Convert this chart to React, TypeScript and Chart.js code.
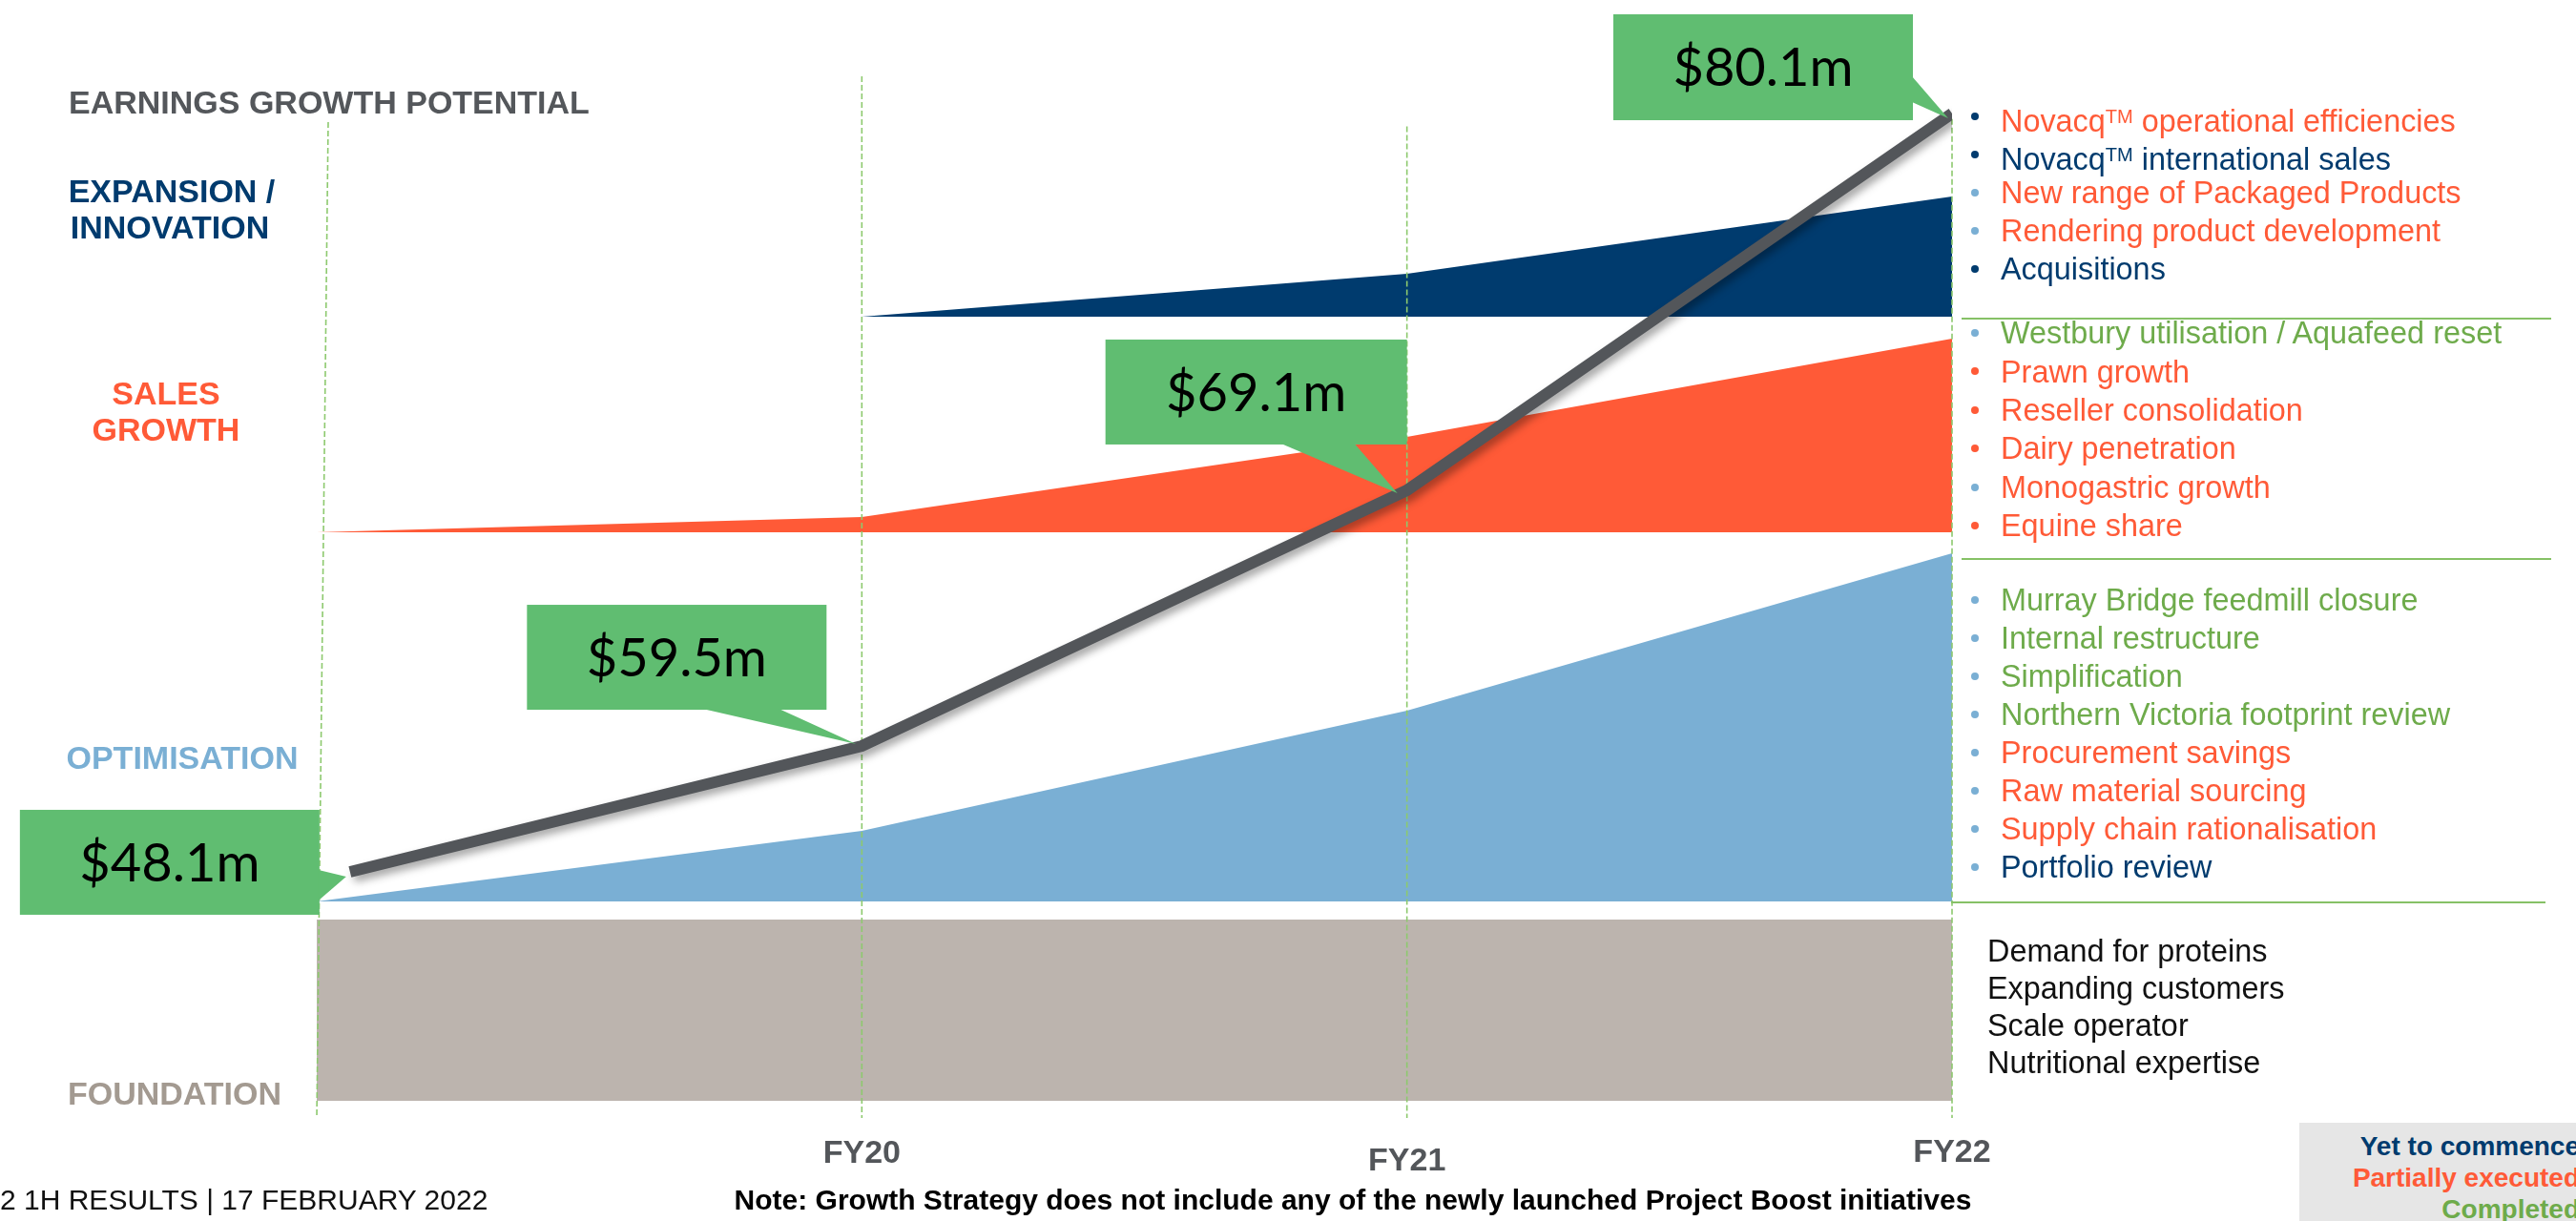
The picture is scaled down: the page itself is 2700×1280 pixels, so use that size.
import React, { useEffect, useRef } from "react";
import { Chart, registerables } from "chart.js";

Chart.register(...registerables);

// ------------------------------------------------------------------
// DATA (y is an abstract 0-100 scale)
// ------------------------------------------------------------------
const tickLabels = ["", "FY20", "FY21", "FY22"];
const periodX = [0, 1, 2, 3];

const foundationTop = [19.05, 19.05, 19.05, 19.05];
const foundationBase = 1.65;

const optimisationTop = [20.79, 27.56, 39.1, 54.21];
const optimisationBase = 20.79;

const salesTop = [56.23, 57.69, 65.38, 74.82];
const salesBase = 56.23;

const expansionTop: (number | null)[] = [null, 76.92, 81.04, 88.46];
const expansionBase = 76.92;

const earningsX = [0.061, 1, 2, 3];
const earningsY = [23.63, 35.71, 60.26, 96.43];
const earningsLabels = ["$48.1m", "$59.5m", "$69.1m", "$80.1m"];

const headline = "EARNINGS GROWTH POTENTIAL";
const pillarNames = [["EXPANSION /", "INNOVATION"], ["SALES", "GROWTH"], ["OPTIMISATION"], ["FOUNDATION"]];

const expansionInitiatives = [
  "Novacq™ operational efficiencies",
  "Novacq™ international sales",
  "New range of Packaged Products",
  "Rendering product development",
  "Acquisitions",
];
const expansionStatus = ["partial", "yet", "partial", "partial", "yet"];
const expansionBullets = ["navy", "navy", "blue", "blue", "navy"];

const salesInitiatives = [
  "Westbury utilisation / Aquafeed reset",
  "Prawn growth",
  "Reseller consolidation",
  "Dairy penetration",
  "Monogastric growth",
  "Equine share",
];
const salesStatus = ["done", "partial", "partial", "partial", "partial", "partial"];
const salesBullets = ["blue", "orange", "orange", "orange", "blue", "orange"];

const optimisationInitiatives = [
  "Murray Bridge feedmill closure",
  "Internal restructure",
  "Simplification",
  "Northern Victoria footprint review",
  "Procurement savings",
  "Raw material sourcing",
  "Supply chain rationalisation",
  "Portfolio review",
];
const optimisationStatus = ["done", "done", "done", "done", "partial", "partial", "partial", "yet"];
const optimisationBullets = ["blue", "blue", "blue", "blue", "blue", "blue", "blue", "blue"];

const foundationDrivers = ["Demand for proteins", "Expanding customers", "Scale operator", "Nutritional expertise"];

const legendLabels = ["Yet to commence", "Partially executed", "Completed"];
const legendStatus = ["yet", "partial", "done"];

const footerText = "2 1H RESULTS | 17 FEBRUARY 2022";
const noteText = "Note: Growth Strategy does not include any of the newly launched Project Boost initiatives";

// ------------------------------------------------------------------
// STYLE
// ------------------------------------------------------------------
const NAVY = "#003B6E";
const ORANGE = "#FF5A37";
const LIGHTBLUE = "#7AAFD4";
const GREEN_TXT = "#6EAB4B";
const CALLOUT = "#60BD71";
const LINE_GREY = "#53565A";
const FOUND_FILL = "#BCB4AE";
const FOUND_TXT = "#A39A91";
const GRID_GREEN = "#8DC96E";
const SEP_GREEN = "#86C166";
const SANS = "'Liberation Sans', Arial, Helvetica, sans-serif";
const LIST_FS = 32.4;

const statusColor: Record<string, string> = { yet: NAVY, partial: ORANGE, done: GREEN_TXT };
const bulletColor: Record<string, string> = { navy: NAVY, blue: LIGHTBLUE, orange: ORANGE };

// vertical dashed guides: top end (in y units) and top x shift (px)
const guideTop = [95.6, 100, 95.2, 95.9];
const guideTopDx = [12, 0, 0, 0];
const tickDy = [0, 35, 43, 34];

// callout geometry relative to each earnings point (px)
const calloutLayout = [
  { box: [-346, -65, 314, 110], side: "right", base: [-2, 30], tip: [-4, 5] },
  { box: [-351, -148, 314, 110], side: "bottom", base: [-167, -87], tip: [-6, -2] },
  { box: [-316, -158, 316, 110], side: "bottom", base: [-132, -55], tip: [-10, 3] },
  { box: [-355, -104, 314, 111], side: "right", base: [-39, -12], tip: [-4, 5] },
];

const pts = (xs: number[], ys: (number | null)[]) =>
  xs.map((x, i) => ({ x, y: ys[i] })).filter((p) => p.y !== null) as { x: number; y: number }[];

const decorPlugin = {
  id: "decor",
  beforeDatasetDraw(chart: any, args: any) {
    if (args.index === 0) {
      const ctx = chart.ctx;
      ctx.save();
      ctx.shadowColor = "rgba(0,0,0,0.35)";
      ctx.shadowBlur = 8;
      ctx.shadowOffsetX = 4;
      ctx.shadowOffsetY = 5;
    }
  },
  afterDatasetDraw(chart: any, args: any) {
    const ctx = chart.ctx;
    if (args.index === 0) {
      ctx.restore();
    }
    if (args.index === 1) {
      const xs = chart.scales.x;
      const ys = chart.scales.y;
      ctx.save();
      ctx.strokeStyle = GRID_GREEN;
      ctx.lineWidth = 1.6;
      ctx.setLineDash([6, 3]);
      periodX.forEach((v, i) => {
        const x = xs.getPixelForValue(v);
        ctx.beginPath();
        ctx.moveTo(x + guideTopDx[i], ys.getPixelForValue(guideTop[i]));
        ctx.lineTo(x, chart.chartArea.bottom);
        ctx.stroke();
      });
      ctx.restore();
    }
  },
  afterDatasetsDraw(chart: any) {
    const ctx = chart.ctx;
    const xs = chart.scales.x;
    // tick labels
    ctx.save();
    ctx.font = `bold 34px ${SANS}`;
    ctx.fillStyle = LINE_GREY;
    ctx.textAlign = "center";
    ctx.textBaseline = "alphabetic";
    periodX.forEach((v, i) => {
      if (!tickLabels[i]) return;
      const x = xs.getPixelForValue(v);
      const cy = chart.chartArea.bottom + tickDy[i];
      ctx.fillText(tickLabels[i], x, cy + 12.2);
    });
    ctx.restore();

    // callouts
    const meta = chart.getDatasetMeta(0);
    meta.data.forEach((pt: any, i: number) => {
      const L = calloutLayout[i];
      if (!L) return;
      const px = pt.x;
      const py = pt.y;
      const bx = px + L.box[0];
      const by = py + L.box[1];
      const bw = L.box[2];
      const bh = L.box[3];
      ctx.save();
      ctx.fillStyle = CALLOUT;
      ctx.fillRect(bx, by, bw, bh);
      ctx.beginPath();
      if (L.side === "right") {
        ctx.moveTo(bx + bw - 1, py + L.base[0]);
        ctx.lineTo(px + L.tip[0], py + L.tip[1]);
        ctx.lineTo(bx + bw - 1, py + L.base[1]);
      } else {
        ctx.moveTo(px + L.base[0], by + bh - 1);
        ctx.lineTo(px + L.tip[0], py + L.tip[1]);
        ctx.lineTo(px + L.base[1], by + bh - 1);
      }
      ctx.closePath();
      ctx.fill();
      ctx.fillStyle = "#000";
      ctx.font = "56px Lato, 'Open Sans', sans-serif";
      ctx.textAlign = "center";
      ctx.textBaseline = "alphabetic";
      ctx.fillText(earningsLabels[i], bx + bw / 2, by + bh / 2 + 20);
      ctx.restore();
    });
  },
};

const boldLabel = (fs: number) => ({
  position: "absolute" as const,
  fontFamily: SANS,
  fontWeight: 700,
  fontSize: fs,
  lineHeight: `${fs}px`,
  whiteSpace: "nowrap" as const,
});

function Centered({ cx, cy, fs, color, bold, children }: any) {
  return (
    <div
      style={{
        position: "absolute",
        left: cx - 1500,
        width: 3000,
        top: cy - 0.49 * fs,
        textAlign: "center",
        fontFamily: SANS,
        fontWeight: bold ? 700 : 400,
        fontSize: fs,
        lineHeight: `${fs}px`,
        color,
        whiteSpace: "nowrap",
      }}
    >
      {children}
    </div>
  );
}

function withTM(s: string) {
  const parts = s.split("™");
  const out: any[] = [];
  parts.forEach((p, i) => {
    out.push(<span key={"p" + i}>{p}</span>);
    if (i < parts.length - 1)
      out.push(
        <span key={"t" + i} style={{ fontSize: "0.62em", verticalAlign: "0.45em" }}>
          TM
        </span>
      );
  });
  return out;
}

function BulletList({ items, status, bullets, y0, dy }: any) {
  const fs = LIST_FS;
  return (
    <>
      {items.map((t: string, i: number) => {
        const cy = y0 + dy * i;
        return (
          <React.Fragment key={t}>
            <div
              style={{
                position: "absolute",
                left: 2066,
                top: cy - 4,
                width: 8,
                height: 8,
                borderRadius: 4,
                background: bulletColor[bullets[i]],
              }}
            />
            <div
              style={{
                position: "absolute",
                left: 2097,
                top: cy - 0.49 * fs,
                fontFamily: SANS,
                fontSize: fs,
                lineHeight: `${fs}px`,
                color: statusColor[status[i]],
                whiteSpace: "nowrap",
              }}
            >
              {withTM(t)}
            </div>
          </React.Fragment>
        );
      })}
    </>
  );
}

export default function App() {
  const canvasRef = useRef<HTMLCanvasElement | null>(null);

  useEffect(() => {
    if (!canvasRef.current) return;
    const area = (data: any, color: string, base: number, label: string) => ({
      label,
      data,
      borderColor: "rgba(0,0,0,0)",
      borderWidth: 0,
      backgroundColor: color,
      fill: { value: base },
      pointRadius: 0,
      tension: 0,
    });
    const chart = new Chart(canvasRef.current, {
      type: "line",
      data: {
        datasets: [
          {
            label: "Earnings",
            data: pts(earningsX, earningsY),
            borderColor: LINE_GREY,
            borderWidth: 12,
            pointRadius: 0,
            fill: false,
            tension: 0,
            borderCapStyle: "butt",
            borderJoinStyle: "miter",
          },
          area(pts(periodX, expansionTop), NAVY, expansionBase, "Expansion / Innovation"),
          area(pts(periodX, salesTop), ORANGE, salesBase, "Sales growth"),
          area(pts(periodX, optimisationTop), LIGHTBLUE, optimisationBase, "Optimisation"),
          area(pts(periodX, foundationTop), FOUND_FILL, foundationBase, "Foundation"),
        ] as any,
      },
      options: {
        animation: false,
        responsive: false,
        devicePixelRatio: 1,
        events: [],
        layout: { padding: { left: 332, right: 654, top: 80, bottom: 108 } },
        scales: {
          x: { type: "linear", min: 0, max: 3, display: false },
          y: { type: "linear", min: 0, max: 100, display: false },
        },
        plugins: { legend: { display: false }, tooltip: { enabled: false } },
      } as any,
      plugins: [decorPlugin as any],
    });
    return () => chart.destroy();
  }, []);

  return (
    <div
      style={{
        position: "absolute",
        left: 0,
        top: 0,
        width: 2700,
        height: 1280,
        overflow: "hidden",
        background: "#fff",
      }}
    >
      <canvas ref={canvasRef} width={2700} height={1280} style={{ position: "absolute", left: 0, top: 0, width: 2700, height: 1280 }} />

      {/* left pillar labels */}
      <div style={{ ...boldLabel(34), left: 72, top: 107 - 0.49 * 34, color: "#54575B" }}>{headline}</div>
      <Centered cx={180} cy={200} fs={34} color={NAVY} bold>{pillarNames[0][0]}</Centered>
      <Centered cx={178} cy={238} fs={34} color={NAVY} bold>{pillarNames[0][1]}</Centered>
      <Centered cx={174} cy={412} fs={34} color={ORANGE} bold>{pillarNames[1][0]}</Centered>
      <Centered cx={174} cy={450} fs={34} color={ORANGE} bold>{pillarNames[1][1]}</Centered>
      <Centered cx={191} cy={794} fs={34} color={LIGHTBLUE} bold>{pillarNames[2][0]}</Centered>
      <Centered cx={183} cy={1146} fs={34} color={FOUND_TXT} bold>{pillarNames[3][0]}</Centered>

      {/* right initiative lists */}
      <BulletList items={expansionInitiatives} status={expansionStatus} bullets={expansionBullets} y0={122} dy={40} />
      <BulletList items={salesInitiatives} status={salesStatus} bullets={salesBullets} y0={349} dy={40.4} />
      <BulletList items={optimisationInitiatives} status={optimisationStatus} bullets={optimisationBullets} y0={629} dy={40} />
      {foundationDrivers.map((t, i) => (
        <div
          key={t}
          style={{
            position: "absolute",
            left: 2083,
            top: 997 + 39 * i - 0.49 * LIST_FS,
            fontFamily: SANS,
            fontSize: LIST_FS,
            lineHeight: `${LIST_FS}px`,
            color: "#111",
            whiteSpace: "nowrap",
          }}
        >
          {t}
        </div>
      ))}

      {/* separators */}
      <div style={{ position: "absolute", left: 2056, top: 333, width: 618, height: 2, background: SEP_GREEN }} />
      <div style={{ position: "absolute", left: 2056, top: 585, width: 618, height: 2, background: SEP_GREEN }} />
      <div style={{ position: "absolute", left: 2045, top: 945, width: 623, height: 2, background: SEP_GREEN }} />

      {/* footer */}
      <div style={{ position: "absolute", left: 0, top: 1258 - 0.49 * 30, fontFamily: SANS, fontSize: 30, lineHeight: "30px", color: "#111", whiteSpace: "nowrap" }}>
        {footerText}
      </div>
      <Centered cx={1418} cy={1258} fs={30} color="#000" bold>{noteText}</Centered>

      {/* legend box */}
      <div style={{ position: "absolute", left: 2410, top: 1177, width: 300, height: 110, background: "#E6E6E6" }} />
      {legendLabels.map((t, i) => (
        <div
          key={t}
          style={{
            position: "absolute",
            right: -4,
            top: 1202 + 33 * i - 0.49 * 28,
            fontFamily: SANS,
            fontWeight: 700,
            fontSize: 28,
            lineHeight: "28px",
            color: statusColor[legendStatus[i]],
            whiteSpace: "nowrap",
            textAlign: "right",
          }}
        >
          {t}
        </div>
      ))}
    </div>
  );
}
